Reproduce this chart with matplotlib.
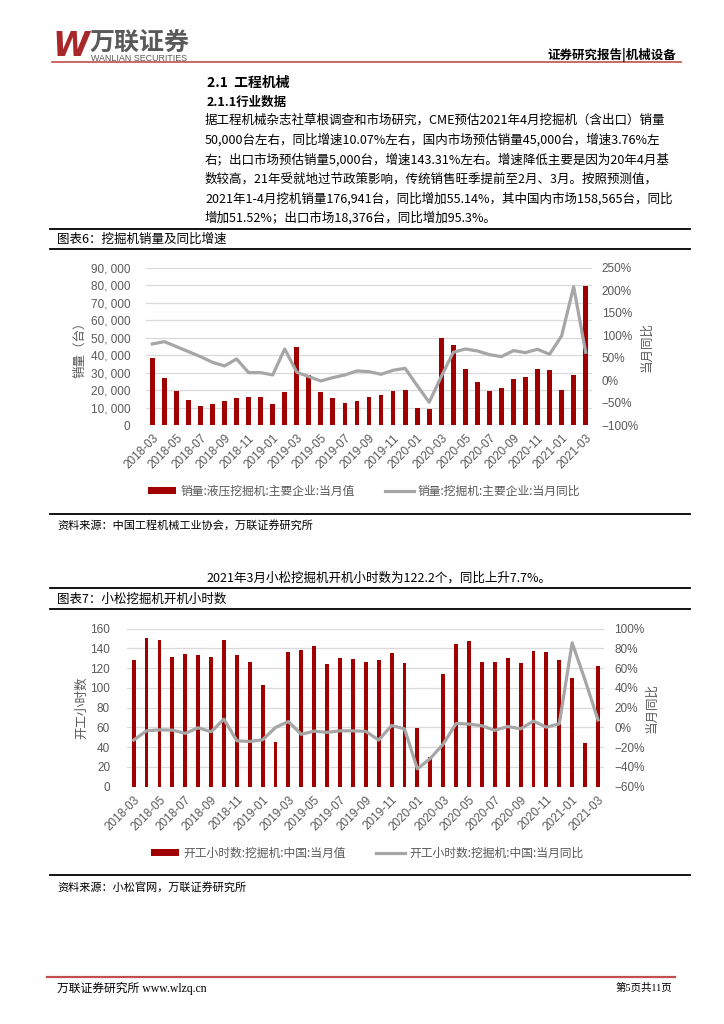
import numpy as np
import pandas as pd
import matplotlib
matplotlib.use('Agg')
from matplotlib import pyplot as plt
from matplotlib.lines import Line2D
from matplotlib.patches import Patch
from matplotlib.ticker import FuncFormatter, MultipleLocator

plt.rcParams['font.family'] = ['Noto Sans CJK SC', 'DejaVu Sans']
plt.rcParams['axes.unicode_minus'] = True

# ---- 数据 ----
months = pd.period_range('2018-03', '2021-03', freq='M').strftime('%Y-%m').tolist()

# 图表6：挖掘机销量（台）及同比（%）
sales = [38600, 27000, 19800, 14500, 11200, 12000, 13900, 15400, 16400, 16400,
         12200, 19200, 44700, 28700, 19200, 15400, 12600, 14100, 16100, 17200,
         19600, 20200, 10100, 9300, 49700, 45900, 32000, 24900, 19600, 21100,
         26300, 27400, 32300, 31800, 20000, 28700, 79300]
sales_yoy = [80.6, 85.8, 74.7, 63.6, 52.5, 39.9, 31.8, 47.3, 17.0, 17.0,
             11.8, 69.5, 17.8, 8.1, -1.5, 5.9, 11.8, 20.7, 19.2, 13.3,
             22.2, 26.6, -11.8, -48.8, 8.1, 62.1, 69.5, 65.1, 57.0, 52.5,
             65.8, 61.4, 68.8, 57.7, 98.4, 207.8, 62.1]

# 图表7：小松挖掘机开工小时数及同比（%）
hours = [128, 150.5, 148.5, 131, 134, 133.3, 131, 148.8, 133, 126,
         103.3, 45.2, 136.4, 138.7, 142.4, 124.2, 130.3, 129.6, 126.2, 128,
         135.7, 124.9, 59, 30.4, 113.8, 144.1, 147.5, 126.6, 126.3, 130.3,
         124.9, 137.4, 136.4, 128.3, 110, 44.2, 122.2]
hours_yoy = [-12.8, -3.4, -2.4, -2.7, -6, -0.3, -4.4, 8.4, -13.5, -14.2,
             -12.5, 0, 6, -7, -3.7, -5, -3.4, -3.4, -4, -12.8,
             2, -1.4, -41.9, -31.4, -16.9, 4, 3.4, 1.7, -3, 1,
             -1.4, 6.4, 0.3, 3.7, 85.7, 48, 7.7]

para = [
    "据工程机械杂志社草根调查和市场研究，CME预估2021年4月挖掘机（含出口）销量",
    "50,000台左右，同比增速10.07%左右，国内市场预估销量45,000台，增速3.76%左",
    "右；出口市场预估销量5,000台，增速143.31%左右。增速降低主要是因为20年4月基",
    "数较高，21年受就地过节政策影响，传统销售旺季提前至2月、3月。按照预测值，",
    "2021年1-4月挖机销量176,941台，同比增加55.14%，其中国内市场158,565台，同比",
    "增加51.52%；出口市场18,376台，同比增加95.3%。",
]

W, H = 724, 1024
BAR_C = '#A00000'
LINE_C = '#A6A6A6'
GRID_C = '#D9D9D9'
TICK_C = '#595959'

fig = plt.figure(figsize=(W / 100, H / 100), dpi=100)


def fx(x):
    return x / W


def fy(y):
    return 1 - y / H


def txt(x, y, s, **kw):
    kw.setdefault('va', 'center')
    fig.text(fx(x), fy(y), s, **kw)


def hline(x0, x1, y, color='black', lw=1.3):
    fig.add_artist(Line2D([fx(x0), fx(x1)], [fy(y), fy(y)], color=color,
                          lw=lw, transform=fig.transFigure))


def minus(s):
    return s.replace('-', '\u2212')


def chart(box, bars, yoy, ylim, ystep, rlim, rstep, lfmt, bar_w,
          labels, leg_xy, lpad, ylab_l, ylab_r):
    l, r, t, b = box
    ax = fig.add_axes([fx(l), fy(b), (r - l) / W, (b - t) / H])
    x = np.arange(len(months))
    ax.bar(x, bars, width=bar_w, color=BAR_C, zorder=2)
    ax.set_xlim(-0.5, len(months) - 0.5)
    ax.set_ylim(*ylim)
    ax.yaxis.set_major_locator(MultipleLocator(ystep))
    ax.yaxis.set_major_formatter(FuncFormatter(lfmt))
    ax.grid(axis='y', color=GRID_C, lw=0.9, zorder=0)
    ax.set_axisbelow(True)
    for sp in ax.spines.values():
        sp.set_visible(False)
    ax.set_xticks(x[::2])
    ax.set_xticklabels(months[::2], rotation=45, ha='right', va='top',
                       rotation_mode='anchor', family='Liberation Sans',
                       fontsize=8.5, color=TICK_C)
    ax.tick_params(axis='x', length=0, pad=5)
    ax.tick_params(axis='y', length=0, pad=lpad, labelsize=8.5, labelcolor=TICK_C)
    for lab in ax.get_yticklabels():
        lab.set_family('Liberation Sans')

    ax2 = ax.twinx()
    ax2.plot(x, yoy, color=LINE_C, lw=2.3, zorder=3)
    ax2.set_ylim(*rlim)
    ax2.yaxis.set_major_locator(MultipleLocator(rstep))
    ax2.yaxis.set_major_formatter(FuncFormatter(lambda v, _: minus(f'{v:.0f}%')))
    ax2.tick_params(axis='y', length=0, pad=7.3, labelsize=8.5, labelcolor=TICK_C)
    for lab in ax2.get_yticklabels():
        lab.set_family('Liberation Sans')
    for sp in ax2.spines.values():
        sp.set_visible(False)

    handles = [Patch(facecolor=BAR_C), Line2D([], [], color=LINE_C, lw=2.3)]
    ax.legend(handles, labels, loc='center', ncol=2, frameon=False,
              bbox_to_anchor=(fx(leg_xy[0]), fy(leg_xy[1])),
              bbox_transform=fig.transFigure, fontsize=8.5, labelcolor=TICK_C,
              handlelength=2.4, handleheight=0.55, handletextpad=0.35,
              columnspacing=2.6)

    cy = (t + b) / 2
    txt(ylab_l[0], cy, ylab_l[1], rotation=90, ha='center', fontsize=9, color=TICK_C)
    txt(ylab_r[0], cy, ylab_r[1], rotation=90, ha='center', fontsize=9, color=TICK_C)
    return ax


# ---- 页眉 ----
txt(52, 46, 'W', fontsize=24, fontweight='bold', style='italic',
    color='#A8282A', family='DejaVu Sans')
txt(89, 43, '万联证券', fontsize=18, fontweight='bold', color='#5A5A5A')
txt(91, 58.5, 'WANLIAN SECURITIES', fontsize=6.4, color='#5A5A5A',
    family='Liberation Sans')
txt(676, 55, '证券研究报告|机械设备', ha='right', fontsize=9, fontweight='bold')
hline(52, 681, 61.5, color='#C0504D', lw=1.2)

# ---- 正文 ----
txt(207, 83, '2.1  工程机械', fontsize=10, fontweight='bold')
txt(207, 102, '2.1.1行业数据', fontsize=9, fontweight='bold')
for i, line in enumerate(para):
    txt(205, 120.5 + 19.5 * i, line, fontsize=9)

# ---- 图表6 ----
hline(50, 690, 229)
txt(57, 239.5, '图表6：挖掘机销量及同比增速', fontsize=9)
hline(50, 690, 249)
chart((146.3, 591.7, 267.7, 425.3), sales, sales_yoy, (0, 90000), 10000,
      (-100, 250), 50, lambda v, _: f'{v:,.0f}'.replace(',', ', '), 0.4,
      ['销量:液压挖掘机:主要企业:当月值', '销量:挖掘机:主要企业:当月同比'],
      (364, 491), 11.5, (80, '销量（台）'), (647, '当月同比'))
hline(50, 690, 514)
txt(57, 525, '资料来源：中国工程机械工业协会，万联证券研究所', fontsize=8)

# ---- 图表7 ----
txt(206, 578, '2021年3月小松挖掘机开机小时数为122.2个，同比上升7.7%。', fontsize=9)
hline(50, 690, 588)
txt(57, 599, '图表7：小松挖掘机开机小时数', fontsize=9)
hline(50, 690, 609)
chart((127.2, 604.4, 628.7, 786.7), hours, hours_yoy, (0, 160), 20,
      (-60, 100), 20, lambda v, _: f'{v:.0f}', 0.3,
      ['开工小时数:挖掘机:中国:当月值', '开工小时数:挖掘机:中国:当月同比'],
      (367, 853), 12.3, (82, '开工小时数'), (652, '当月同比'))
hline(50, 690, 875)
txt(57, 887, '资料来源：小松官网，万联证券研究所', fontsize=8)

# ---- 页脚 ----
hline(47, 675, 977, color='#C0504D', lw=1.6)
txt(57, 988, '万联证券研究所 www.wlzq.cn', fontsize=8.5,
    family=['Liberation Serif', 'Noto Sans CJK SC'])
txt(672, 988, '第5页共11页', ha='right', fontsize=7.5,
    family=['Liberation Serif', 'Noto Sans CJK SC'])

fig.savefig('out.png', dpi=100)
